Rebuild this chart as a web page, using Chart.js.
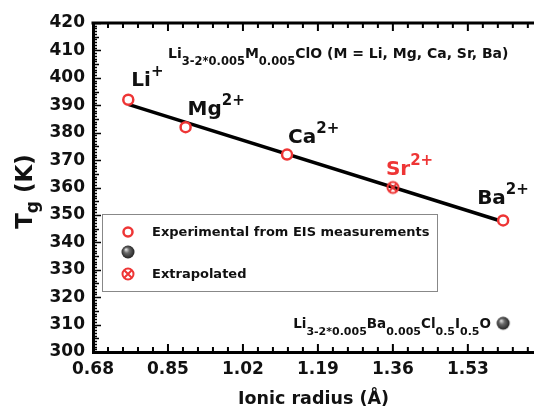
<!DOCTYPE html>
<html>
<head>
<meta charset="utf-8">
<script src="https://cdn.jsdelivr.net/npm/chart.js@4.4.1/dist/chart.umd.min.js"></script>
<style>
  html, body { margin: 0; background: #fff; }
  #wrap { width: 534px; height: 408px; }
</style>
</head>
<body>
<div id="wrap"><canvas id="tgChart"></canvas></div>
<script>
// values
const expRadius = [0.76, 0.89, 1.12, 1.61];
const expTg = [392, 382, 372, 348];
const extRadius = [1.36];
const extTg = [360];
const oxyRadius = [1.61];
const oxyTg = [310.5];
const fitRadius = [0.76, 1.61];
const fitTg = [390.3, 347.5];

const xTicks = [0.68, 0.85, 1.02, 1.19, 1.36, 1.53];
const yTicks = [300, 310, 320, 330, 340, 350, 360, 370, 380, 390, 400, 410, 420];

const ionNames = ['Li', 'Mg', 'Ca', 'Sr', 'Ba'];
const ionCharges = ['+', '2+', '2+', '2+', '2+'];
const ionRadius = [0.76, 0.89, 1.12, 1.36, 1.61];
const ionTg = [392, 382, 372, 360, 348];

const legendLabels = ['Experimental from EIS measurements', '', 'Extrapolated'];

const RED = '#ee3535';
const FONT = '"DejaVu Sans", sans-serif';

// marker images
function crossedCircle() {
    const c = document.createElement('canvas');
    c.width = 16; c.height = 16;
    const g = c.getContext('2d');
    g.strokeStyle = RED;
    g.lineWidth = 2;
    g.beginPath();
    g.arc(8, 8, 5.5, 0, Math.PI * 2);
    g.stroke();
    g.beginPath();
    g.moveTo(4, 4); g.lineTo(12, 12);
    g.moveTo(12, 4); g.lineTo(4, 12);
    g.stroke();
    return c;
}

function sphere() {
    const c = document.createElement('canvas');
    c.width = 16; c.height = 16;
    const g = c.getContext('2d');
    const grad = g.createRadialGradient(6, 5.5, 0.5, 8, 8, 7);
    grad.addColorStop(0, '#d8d8d8');
    grad.addColorStop(0.35, '#6a6a6a');
    grad.addColorStop(1, '#1c1c1c');
    g.fillStyle = grad;
    g.beginPath();
    g.arc(8, 8, 6.5, 0, Math.PI * 2);
    g.fill();
    return c;
}

const crossImg = crossedCircle();
const sphereImg = sphere();

// text with sub/superscripts: parts = [[text, 'n'|'sub'|'sup'], ...]
function richText(ctx, x, y, parts, size, small, subDrop, supRise, color) {
    let cx = x;
    ctx.fillStyle = color;
    ctx.textBaseline = 'alphabetic';
    ctx.textAlign = 'left';
    parts.forEach(([t, kind]) => {
        const s = kind === 'n' ? size : small;
        ctx.font = `bold ${s}px ${FONT}`;
        const dy = kind === 'sub' ? subDrop : (kind === 'sup' ? -supRise : 0);
        ctx.fillText(t, cx, y + dy);
        cx += ctx.measureText(t).width;
    });
    return cx - x;
}

function richWidth(ctx, parts, size, small) {
    let w = 0;
    parts.forEach(([t, kind]) => {
        ctx.font = `bold ${kind === 'n' ? size : small}px ${FONT}`;
        w += ctx.measureText(t).width;
    });
    return w;
}

const labelOffsets = [[3, -14], [2, -12.5], [1, -12], [-7, -13], [-26, -16]];

const decorPlugin = {
    id: 'decor',
    afterDraw(chart) {
        const ctx = chart.ctx;
        const xs = chart.scales.x, ys = chart.scales.y;
        const area = chart.chartArea;
        ctx.save();
        ctx.strokeStyle = '#000000';
        ctx.setLineDash([]);

        // top axis line
        ctx.lineWidth = 3;
        ctx.beginPath();
        ctx.moveTo(area.left - 1.5, area.top);
        ctx.lineTo(area.right, area.top);
        ctx.stroke();

        // inward ticks, bottom and top
        ctx.lineWidth = 2;
        ctx.beginPath();
        for (let i = 0; i < 40; i++) {
            const px = xs.getPixelForValue(0.68 + i * 0.034);
            if (px > area.right) break;
            const len = i % 5 === 0 ? 8 : 5;
            ctx.moveTo(px, area.bottom);
            ctx.lineTo(px, area.bottom - len);
            ctx.moveTo(px, area.top);
            ctx.lineTo(px, area.top + len);
        }
        ctx.stroke();

        // left ticks
        ctx.lineWidth = 1.5;
        ctx.beginPath();
        for (let v = 300; v <= 420; v++) {
            const py = Math.round(ys.getPixelForValue(v)) + 0.5;
            const len = v % 10 === 0 ? 8 : (v % 5 === 0 ? 6 : 4);
            ctx.moveTo(area.left, py);
            ctx.lineTo(area.left + len, py);
        }
        ctx.stroke();

        // ion labels
        ionNames.forEach((n, i) => {
            const px = xs.getPixelForValue(ionRadius[i]) + labelOffsets[i][0];
            const py = ys.getPixelForValue(ionTg[i]) + labelOffsets[i][1];
            const col = n === 'Sr' ? RED : '#111';
            richText(ctx, px, py, [[n, 'n'], [ionCharges[i], 'sup']], 20, 15, 0, 10, col);
        });

        // composition title
        richText(ctx, 168, 58, [
            ['Li', 'n'], ['3-2*0.005', 'sub'], ['M', 'n'], ['0.005', 'sub'],
            ['ClO (M = Li, Mg, Ca, Sr, Ba)', 'n']
        ], 14, 11.5, 7, 0, '#111');

        // oxyiodide label
        const oxyParts = [
            ['Li', 'n'], ['3-2*0.005', 'sub'], ['Ba', 'n'], ['0.005', 'sub'],
            ['Cl', 'n'], ['0.5', 'sub'], ['I', 'n'], ['0.5', 'sub'], ['O', 'n']
        ];
        const ow = richWidth(ctx, oxyParts, 13.5, 11);
        richText(ctx, 491 - ow, 328, oxyParts, 13.5, 11, 7, 0, '#111');

        // legend box
        ctx.strokeStyle = '#888';
        ctx.lineWidth = 1;
        ctx.strokeRect(102.5, 214.5, 335, 77);
        const rows = [232, 252, 274];
        ctx.strokeStyle = RED;
        ctx.fillStyle = '#fff';
        ctx.lineWidth = 2.5;
        ctx.beginPath();
        ctx.arc(128, rows[0], 4.5, 0, Math.PI * 2);
        ctx.fill();
        ctx.stroke();
        ctx.drawImage(sphereImg, 120, rows[1] - 8);
        ctx.drawImage(crossImg, 120, rows[2] - 8);
        ctx.font = `bold 13px ${FONT}`;
        ctx.fillStyle = '#111';
        ctx.textBaseline = 'middle';
        legendLabels.forEach((t, i) => ctx.fillText(t, 152, rows[i] + 1));

        // axis titles
        ctx.textAlign = 'center';
        ctx.textBaseline = 'alphabetic';
        ctx.font = `bold 17.5px ${FONT}`;
        ctx.fillText('Ionic radius (Å)', (area.left + area.right) / 2, 404);

        const tParts = [['T', 'n'], ['g', 'sub'], [' (K)', 'n']];
        const tw = richWidth(ctx, tParts, 23, 17);
        ctx.translate(32, (area.top + area.bottom) / 2 + 4);
        ctx.rotate(-Math.PI / 2);
        richText(ctx, -tw / 2, 0, tParts, 23, 17, 6, 0, '#111');

        ctx.restore();
    }
};

const ctx = document.getElementById('tgChart');

new Chart(ctx, {
    type: 'scatter',
    data: {
        datasets: [
            {
                label: 'fit',
                data: fitRadius.map((x, i) => ({ x, y: fitTg[i] })),
                showLine: true,
                borderColor: '#000',
                borderWidth: 3.5,
                pointRadius: 0,
                order: 5
            },
            {
                label: 'Experimental from EIS measurements',
                data: expRadius.map((x, i) => ({ x, y: expTg[i] })),
                pointStyle: 'circle',
                pointRadius: 5,
                borderWidth: 2.5,
                borderColor: RED,
                backgroundColor: '#fff',
                order: 1
            },
            {
                label: 'oxyiodide',
                data: oxyRadius.map((x, i) => ({ x, y: oxyTg[i] })),
                pointStyle: sphereImg,
                order: 1
            },
            {
                label: 'Extrapolated',
                data: extRadius.map((x, i) => ({ x, y: extTg[i] })),
                pointStyle: crossImg,
                order: 1
            }
        ]
    },
    options: {
        animation: false,
        responsive: true,
        maintainAspectRatio: false,
        layout: { autoPadding: false, padding: { top: 23, right: 0, left: 0, bottom: 0 } },
        scales: {
            x: {
                type: 'linear',
                min: 0.68,
                max: 1.68,
                afterFit: (s) => { s.height = 56; s.paddingLeft = 0; s.paddingRight = 0; },
                afterBuildTicks: (s) => { s.ticks = xTicks.map(v => ({ value: v })); },
                grid: { display: false, drawTicks: false },
                border: { display: true, color: '#000', width: 3 },
                ticks: {
                    padding: 7,
                    color: '#111',
                    font: { family: FONT, size: 17, weight: 'bold' },
                    callback: (v) => v.toFixed(2),
                    maxRotation: 0,
                    autoSkip: false
                }
            },
            y: {
                type: 'linear',
                min: 300,
                max: 420,
                afterFit: (s) => { s.width = 93; },
                afterBuildTicks: (s) => { s.ticks = yTicks.map(v => ({ value: v })); },
                grid: { display: false, drawTicks: false },
                border: { display: true, color: '#000', width: 3 },
                ticks: {
                    padding: 8,
                    color: '#111',
                    font: { family: FONT, size: 17, weight: 'bold' },
                    autoSkip: false
                }
            }
        },
        plugins: {
            legend: { display: false },
            tooltip: { enabled: false }
        }
    },
    plugins: [decorPlugin]
});
</script>
</body>
</html>
